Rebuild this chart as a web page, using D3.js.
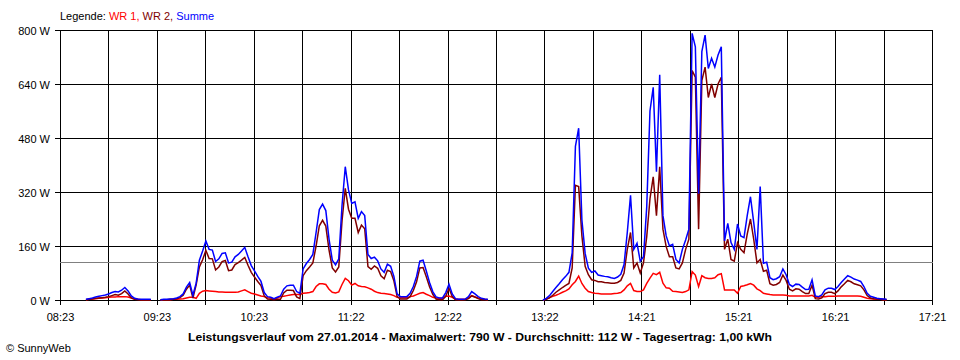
<!DOCTYPE html>
<html><head><meta charset="utf-8">
<script src="https://cdn.jsdelivr.net/npm/d3@7"></script>
<style>
body{margin:0;background:#fff}
svg{display:block}
text{font-family:"Liberation Sans",Arial,sans-serif;font-size:11px;fill:#000}
</style>
</head><body>
<svg id="c" width="960" height="360"></svg>
<script>
// ---- data ----
const axisStart = "08:23", axisEnd = "17:21";
const xTickLabels = ["08:23","09:23","10:23","11:22","12:22","13:22","14:21","15:21","16:21","17:21"];
const yTicks = [0,160,320,480,640,800];
const average = 112;
const sampleStart = "08:39", sampleStepMin = 2;
const seriesNames = ["WR 1","WR 2","Summe"];
const seriesColors = ["#ff0000","#800000","#0000ff"];
const N = null;
const wr1 = [
1,2,3,4,5,6,7,8,9,9, 10,10,10,9,6,3,2,1,1,1,
1,N,N,0,1,1,1,2,2,3, 4,6,8,8,5,20,26,28,27,26,
25,24,24,23,23,23,23,24,27,30, 25,20,18,15,12,10,7,6,3,6,
10,11,13,15,16,16,16,20,21,22, 25,40,48,48,46,32,23,21,24,46,
64,57,44,49,42,40,39,36,32,26, 22,20,19,18,16,13,8,7,7,7,
10,12,16,20,22,17,13,8,6,5, 5,11,12,8,3,2,2,2,6,13,
9,6,4,2,1,N,N,N,N,N, N,N,N,N,N,N,N,N,N,N,
N,0,3,7,11,14,18,23,27,33, 45,55,71,49,35,25,22,20,19,18,
18,18,18,19,20,22,30,42,49,28, 25,25,30,49,65,79,75,82,50,36,
35,26,25,24,22,25,30,84,74,40, 72,66,64,64,66,75,78,30,30,30,
30,20,40,42,45,49,44,33,28,20, 18,16,15,15,15,15,14,12,12,12,
12,12,12,12,14,8,8,10,10,11, 11,11,12,12,12,12,12,12,12,11,
8,5,4,3,2,2,1,1];
const wr2 = [
1,2,3,5,6,7,8,10,13,16, 14,19,27,18,6,2,1,1,1,1,
1,N,N,1,1,1,2,2,4,7, 14,32,44,6,45,98,119,147,123,122,
89,98,114,117,87,89,105,111,118,126, 103,82,68,55,43,12,3,2,1,2,
2,21,29,29,28,9,4,72,87,98, 110,160,220,236,219,148,95,83,98,234,
331,269,242,242,200,222,211,99,91,101, 94,72,63,88,84,57,10,3,3,3,
10,28,54,95,96,69,39,17,3,1, 1,11,35,10,1,0,0,1,4,12,
9,4,1,1,1,N,N,N,N,N, N,N,N,N,N,N,N,N,N,N,
N,0,2,6,14,23,30,37,43,49, 95,340,336,190,100,75,60,58,54,54,
52,51,50,50,52,58,80,150,200,95, 110,80,110,188,300,365,250,395,210,158,
128,128,95,92,110,150,180,680,660,210, 650,690,600,640,600,640,660,150,180,120,
115,170,150,140,195,240,180,110,120,85, 88,48,44,46,52,74,58,32,27,33,
32,25,19,19,44,4,3,6,19,23, 23,19,27,39,48,58,54,48,45,42,
30,13,6,4,3,2,2,1];
const summe = [
2,4,6,9,11,13,15,18,22,25, 24,29,37,27,12,5,3,2,2,2,
2,N,N,1,2,2,3,4,6,10, 18,38,52,14,50,118,145,175,150,148,
114,122,138,140,110,112,128,135,145,156, 128,102,86,70,55,22,10,8,4,8,
12,32,42,44,44,25,20,92,108,120, 135,200,268,284,265,180,118,104,122,280,
395,326,286,291,242,262,250,135,123,127, 116,92,82,106,100,70,18,10,10,10,
20,40,70,115,118,86,52,25,9,6, 6,22,47,18,4,2,2,3,10,25,
18,10,5,3,2,N,N,N,N,N, N,N,N,N,N,N,N,N,N,N,
N,0,5,13,25,37,48,60,70,82, 140,455,509,237,138,94,82,86,74,72,
70,69,66,64,68,76,105,200,310,150, 168,115,128,276,560,630,380,667,250,190,
160,165,120,110,150,178,210,790,750,315, 736,785,686,716,690,726,750,175,227,170,
150,225,190,185,250,306,230,150,336,109, 112,66,60,63,69,92,75,46,40,47,
46,38,31,32,60,12,10,15,30,35, 35,31,40,52,62,72,68,62,59,55,
40,20,11,8,5,4,3,2];
const titleText = "Leistungsverlauf vom 27.01.2014 - Maximalwert: 790 W - Durchschnitt: 112 W - Tagesertrag: 1,00 kWh";
const copyrightText = "\u00A9 SunnyWeb";

// ---- chart ----
(function(){
const toMin = s => { const [h,m] = s.split(":").map(Number); return h*60+m; };
const svg = d3.select("#c");
const pL = 60, pR = 932, pT = 30, pB = 300;
const x = d3.scaleLinear().domain([toMin(axisStart), toMin(axisEnd)]).range([pL, pR]);
const y = d3.scaleLinear().domain([0, 800]).range([pB, pT]);

const nGrid = (xTickLabels.length - 1) * 2;
const t0 = toMin(axisStart), t1 = toMin(axisEnd);
const gridVals = d3.range(nGrid + 1).map(i => t0 + i * (t1 - t0) / nGrid);

const grid = svg.append("g").attr("shape-rendering","crispEdges");
grid.selectAll("line.v").data(gridVals).join("line")
  .attr("x1", d => Math.round(x(d)) + 0.5).attr("x2", d => Math.round(x(d)) + 0.5)
  .attr("y1", pT).attr("y2", pB + 5)
  .attr("stroke", "#000").attr("stroke-width", 1);
grid.selectAll("line.h").data(yTicks).join("line")
  .attr("x1", pL - 5).attr("x2", pR + 1)
  .attr("y1", d => Math.round(y(d)) + 0.5).attr("y2", d => Math.round(y(d)) + 0.5)
  .attr("stroke", "#000").attr("stroke-width", 1);
grid.append("line")
  .attr("x1", pL).attr("x2", pR + 1)
  .attr("y1", Math.round(y(average)) + 0.5).attr("y2", Math.round(y(average)) + 0.5)
  .attr("stroke", "#808080").attr("stroke-width", 1);

const xAxis = d3.axisBottom(x).tickValues(gridVals.filter((d,i) => i % 2 === 0))
  .tickFormat((d,i) => xTickLabels[i]).tickSize(0).tickPadding(0);
const gx = svg.append("g").attr("transform", `translate(0,${pB})`).call(xAxis);
gx.select(".domain").remove();
gx.selectAll("text").attr("dy", null).attr("y", 21).attr("font-size", 11).attr("font-family", null);

const yAxis = d3.axisLeft(y).tickValues(yTicks).tickFormat(d => d + " W").tickSize(0).tickPadding(0);
const gy = svg.append("g").attr("transform", `translate(${pL - 10},0)`).call(yAxis);
gy.select(".domain").remove();
gy.selectAll("text").attr("dy", null).attr("y", 4).attr("x", 0).attr("font-size", 11).attr("font-family", null);

const start = toMin(sampleStart);
const seriesData = [wr1, wr2, summe];
const line = d3.line()
  .defined(d => d.v != null)
  .x(d => x(d.t)).y(d => y(d.v));
seriesData.forEach((vals, si) => {
  const pts = vals.map((v, i) => ({t: start + i * sampleStepMin, v}));
  svg.append("path").datum(pts)
    .attr("fill", "none").attr("stroke", seriesColors[si])
    .attr("stroke-width", 1.5).attr("stroke-linejoin", "miter")
    .attr("d", line);
});

const leg = svg.append("text").attr("x", 60).attr("y", 20);
leg.append("tspan").text("Legende: ");
seriesNames.forEach((n, i) => {
  leg.append("tspan").style("fill", seriesColors[i]).text(n + (i < seriesNames.length - 1 ? ", " : ""));
});

svg.append("text").attr("x", 188).attr("y", 341)
  .attr("font-weight", "bold").attr("font-size", 12)
  .attr("textLength", 584).attr("lengthAdjust", "spacingAndGlyphs").text(titleText);
svg.append("text").attr("x", 6).attr("y", 352).text(copyrightText);
})();
</script>
</body></html>
